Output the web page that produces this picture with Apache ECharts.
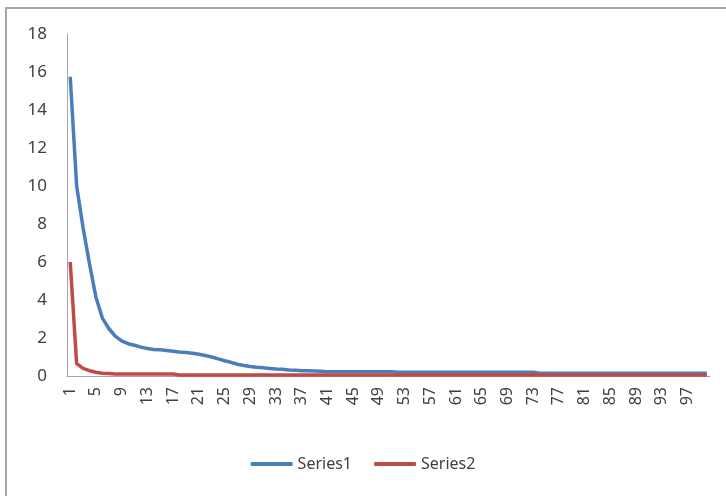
<!DOCTYPE html>
<html>
<head>
<meta charset="utf-8">
<script src="https://cdn.jsdelivr.net/npm/echarts@6/dist/echarts.min.js"></script>
<style>html,body{margin:0;padding:0;background:#fff;}#c{width:726px;height:496px;}</style>
</head>
<body>
<div id="c"></div>
<script>
var categories = [];
for (var i = 1; i <= 100; i++) categories.push(String(i));

var series1Head = [15.75, 10.0, 7.8, 5.9, 4.15, 3.05, 2.5, 2.1, 1.85, 1.7,
  1.62, 1.52, 1.45, 1.4, 1.38, 1.34, 1.3, 1.26, 1.24, 1.2,
  1.14, 1.08, 1.0, 0.9, 0.8, 0.72, 0.62, 0.55, 0.5, 0.46,
  0.43, 0.4, 0.37, 0.35, 0.32, 0.3, 0.28, 0.27, 0.26, 0.25];
var series1Mid = [0.23, 0.23, 0.23, 0.23, 0.23, 0.23, 0.23, 0.23, 0.23, 0.23, 0.23];
var series1Tail = [0.2, 0.2, 0.2, 0.2, 0.2, 0.2, 0.2, 0.2, 0.2, 0.2, 0.2,
  0.2, 0.2, 0.2, 0.2, 0.2, 0.2, 0.2, 0.2, 0.2, 0.2, 0.2,
  0.15, 0.15, 0.15, 0.15, 0.15, 0.15, 0.15, 0.15, 0.15, 0.15,
  0.15, 0.15, 0.15, 0.15, 0.15, 0.15, 0.15, 0.15, 0.15, 0.15,
  0.15, 0.15, 0.15, 0.15, 0.15, 0.15, 0.15];
var series1 = series1Head.concat(series1Mid, series1Tail);

var series2Head = [6.0, 0.65, 0.4, 0.28, 0.2, 0.15, 0.13,
  0.1, 0.1, 0.1, 0.1, 0.1, 0.1, 0.1, 0.1, 0.1, 0.1];
var series2Tail = [];
for (var j = 0; j < 83; j++) series2Tail.push(0.05);
var series2 = series2Head.concat(series2Tail);

var yTicks = { min: 0, max: 18, interval: 2 };

var chart = echarts.init(document.getElementById('c'));
chart.setOption({
  animation: false,
  backgroundColor: '#fff',
  graphic: [{
    type: 'rect',
    shape: { x: 6, y: 8, width: 800, height: 600 },
    style: { fill: 'none', stroke: '#a6a6a6', lineWidth: 2 },
    z: -1
  }],
  grid: { left: 67, right: 16, top: 34, bottom: 120 },
  legend: {
    bottom: 19,
    left: 'center',
    icon: 'roundRect',
    itemWidth: 42,
    itemHeight: 4,
    itemGap: 22,
    textStyle: { fontFamily: 'Noto Sans', fontSize: 16, color: '#404040' },
    data: ['Series1', 'Series2']
  },
  xAxis: {
    type: 'category',
    data: categories,
    boundaryGap: true,
    axisLine: { lineStyle: { color: '#a6a6a6', width: 1 } },
    axisTick: { show: false },
    axisLabel: {
      interval: 3,
      rotate: 90,
      margin: 11,
      fontFamily: 'Noto Sans',
      fontSize: 16,
      color: '#404040'
    }
  },
  yAxis: {
    type: 'value',
    min: yTicks.min,
    max: yTicks.max,
    interval: yTicks.interval,
    splitLine: { show: false },
    axisLine: { show: true, lineStyle: { color: '#a6a6a6', width: 1 } },
    axisTick: { show: false },
    axisLabel: { margin: 20, fontFamily: 'Noto Sans', fontSize: 17, color: '#404040' }
  },
  series: [
    { name: 'Series1', type: 'line', data: series1, symbol: 'none',
      lineStyle: { color: '#4a7ebb', width: 3.5 }, itemStyle: { color: '#4a7ebb' } },
    { name: 'Series2', type: 'line', data: series2, symbol: 'none',
      lineStyle: { color: '#be4b48', width: 3.5 }, itemStyle: { color: '#be4b48' } }
  ]
});
</script>
</body>
</html>
